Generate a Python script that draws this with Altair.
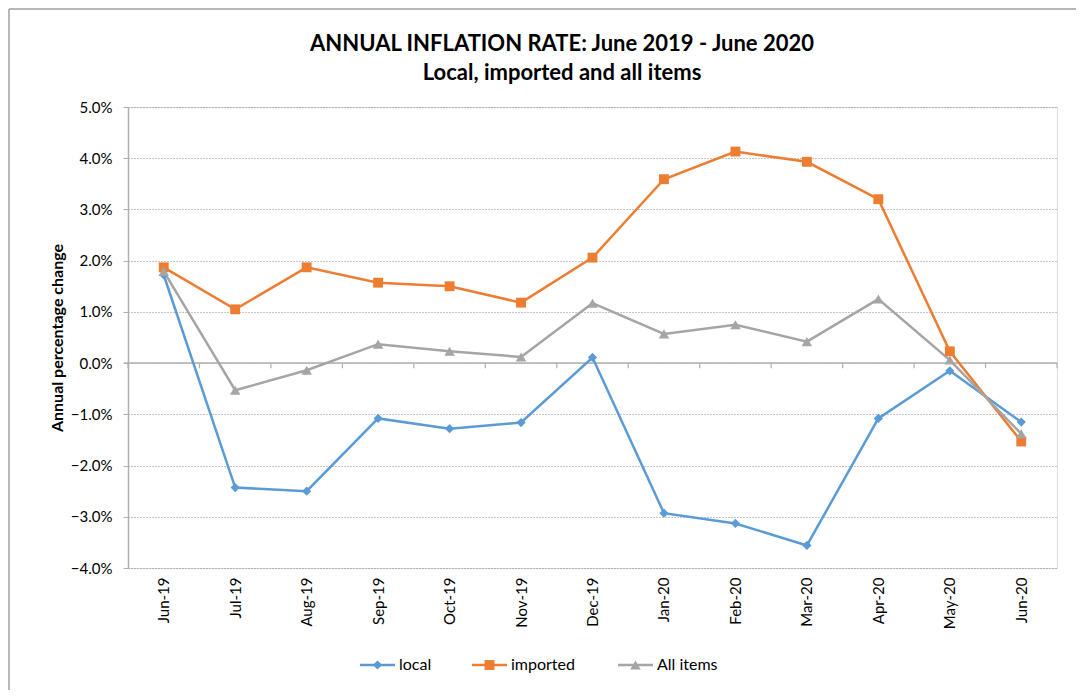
import json
import altair as alt
import pandas as pd

months = ["Jun-19", "Jul-19", "Aug-19", "Sep-19", "Oct-19", "Nov-19", "Dec-19",
          "Jan-20", "Feb-20", "Mar-20", "Apr-20", "May-20", "Jun-20"]
local = [1.72, -2.43, -2.50, -1.08, -1.28, -1.16, 0.11, -2.93, -3.13, -3.56, -1.08, -0.15, -1.15]
imported = [1.87, 1.05, 1.87, 1.57, 1.50, 1.18, 2.06, 3.59, 4.13, 3.93, 3.20, 0.23, -1.53]
all_items = [1.79, -0.53, -0.14, 0.37, 0.23, 0.12, 1.17, 0.57, 0.75, 0.42, 1.25, 0.06, -1.38]

series_names = ["local", "imported", "All items"]
series_colors = ["#5B9BD5", "#ED7D31", "#A5A5A5"]
series_shapes = ["diamond", "square", "triangle-up"]
series_sizes = [85, 110, 100]

title_lines = ["ANNUAL INFLATION RATE: June 2019 - June 2020", "Local, imported and all items"]

W, H = 929, 461
PAD_L, PAD_T, PAD_R, PAD_B = 120, 99, 19, 122
FONT = "Lato"

rows = []
for name, vals in zip(series_names, [local, imported, all_items]):
    for i, (m, v) in enumerate(zip(months, vals)):
        rows.append({"i": i, "month": m, "series": name, "value": v})
df = pd.DataFrame(rows)

xscale = alt.Scale(domain=[-0.5, len(months) - 0.5], nice=False, zero=False)
yscale = alt.Scale(domain=[-4, 5], nice=False)
color_scale = alt.Scale(domain=series_names, range=series_colors)
shape_scale = alt.Scale(domain=series_names, range=series_shapes)
size_scale = alt.Scale(domain=series_names, range=series_sizes)

label_expr = json.dumps(months) + "[datum.value]"

x_axis = alt.Axis(values=list(range(len(months))), labelExpr=label_expr, labelAngle=-90,
                  domain=False, ticks=False, grid=False, labelPadding=9, labelFontSize=15,
                  labelFont=FONT, labelColor="#000", title=None)
y_axis = alt.Axis(values=list(range(-4, 6)), labelExpr="format(datum.value, '.1f') + '%'",
                  grid=True, gridColor="#8a8a8a", gridDash=[1, 2], gridWidth=1,
                  domain=True, domainColor="#b0b0b0", domainWidth=1.5,
                  tickColor="#b0b0b0", tickSize=5, labelPadding=11, labelFontSize=15,
                  labelFont=FONT, labelColor="#000",
                  title="Annual percentage change", titleFont=FONT, titleFontSize=16,
                  titleFontWeight="bold", titleColor="#000", titleX=-71, titleY=H / 2,
                  titleAlign="center", titleBaseline="middle", titleAngle=-90)

base = alt.Chart(df)

lines = base.mark_line(strokeWidth=2.5).encode(
    x=alt.X("i:Q", scale=xscale, axis=x_axis),
    y=alt.Y("value:Q", scale=yscale, axis=y_axis),
    color=alt.Color("series:N", scale=color_scale, legend=None),
    detail="series:N",
    order="i:Q",
)
points = base.mark_point(filled=True, opacity=1).encode(
    x=alt.X("i:Q", scale=xscale),
    y=alt.Y("value:Q", scale=yscale),
    color=alt.Color("series:N", scale=color_scale, legend=None),
    shape=alt.Shape("series:N", scale=shape_scale, legend=None),
    size=alt.Size("series:N", scale=size_scale, legend=None),
)

# zero line and category boundary ticks
zero_df = pd.DataFrame({"y": [0]})
zero_line = alt.Chart(zero_df).mark_rule(color="#b0b0b0", strokeWidth=1.5).encode(
    y=alt.Y("y:Q", scale=yscale), x=alt.value(-4), x2=alt.value(W))
tick_df = pd.DataFrame({"b": [k - 0.5 for k in range(len(months) + 1)]})
ticks = alt.Chart(tick_df).mark_rule(color="#b0b0b0", strokeWidth=1.2).encode(
    x=alt.X("b:Q", scale=xscale),
    y=alt.Y("y0:Q", scale=yscale),
    y2="y1:Q",
).transform_calculate(y0="0", y1="-0.1")

# legend (manual, Excel style)
leg_df = pd.DataFrame({"series": series_names, "lx": [232, 344, 490]})
leg_base = alt.Chart(leg_df).transform_calculate(
    lx2="datum.lx + 35", mx="datum.lx + 17.5", tx="datum.lx + 39")
leg_lines = leg_base.mark_rule(strokeWidth=2.5).encode(
    x=alt.X("lx:Q", scale=None), x2="lx2:Q", y=alt.value(H + 97),
    color=alt.Color("series:N", scale=color_scale, legend=None))
leg_pts = leg_base.mark_point(filled=True, opacity=1).encode(
    x=alt.X("mx:Q", scale=None), y=alt.value(H + 97),
    color=alt.Color("series:N", scale=color_scale, legend=None),
    shape=alt.Shape("series:N", scale=shape_scale, legend=None),
    size=alt.Size("series:N", scale=size_scale, legend=None))
leg_text = leg_base.mark_text(align="left", baseline="middle", fontSize=16, font=FONT,
                              color="#000").encode(
    x=alt.X("tx:Q", scale=None), y=alt.value(H + 97), text="series:N")

# title as two text lines
title_df = pd.DataFrame({"t": title_lines, "ty": [-56, -27]})
title = alt.Chart(title_df).mark_text(align="center", baseline="alphabetic", fontSize=22,
                                      font=FONT, fontWeight="bold", color="#000").encode(
    x=alt.value(434), y=alt.Y("ty:Q", scale=None), text="t:N")

# outer border (top and left edges)
border_top = alt.Chart(zero_df).mark_rule(color="#a0a0a0", strokeWidth=1.5).encode(
    x=alt.value(-PAD_L + 1), x2=alt.value(W + PAD_R), y=alt.value(-PAD_T + 1))
border_left = alt.Chart(zero_df).mark_rule(color="#a0a0a0", strokeWidth=1.5).encode(
    x=alt.value(-PAD_L + 1), y=alt.value(-PAD_T + 1), y2=alt.value(H + PAD_B))

chart = alt.layer(
    zero_line, ticks, lines, points, leg_lines, leg_pts, leg_text, title,
    border_top, border_left
).resolve_scale(shape="shared", color="shared", size="shared").properties(
    width=W, height=H,
    autosize=alt.AutoSizeParams(type="none"),
    padding={"left": PAD_L, "top": PAD_T, "right": PAD_R, "bottom": PAD_B},
).configure_view(fill="#ECECEC", stroke=None).configure(background="white")

chart.save("out.html", embed_options={"renderer": "svg", "actions": False})
